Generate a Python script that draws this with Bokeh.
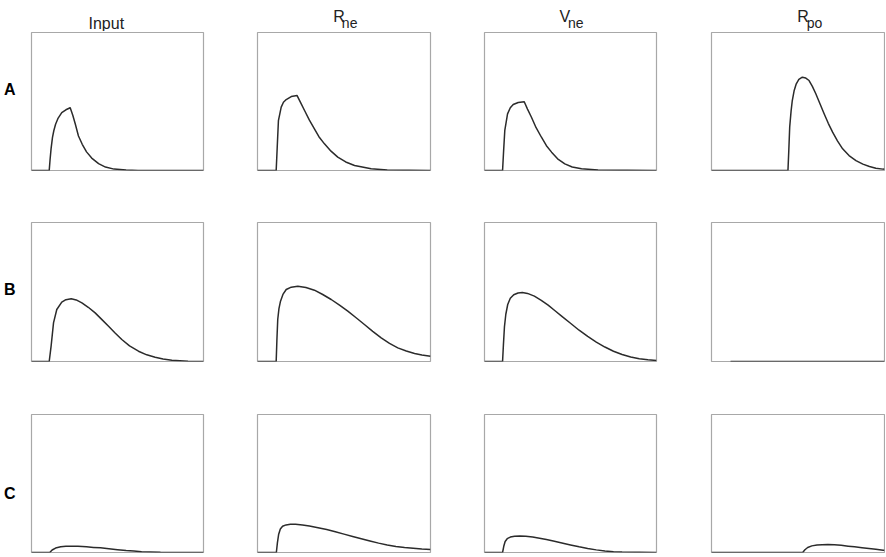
from bokeh.plotting import figure
from bokeh.layouts import gridplot
from bokeh.models import Range1d
from bokeh.core.properties import value
from bokeh.embed import file_html
from bokeh.resources import INLINE

# ---------------- data (x: % of time window, y: fraction of panel height) -------------
col_main = ["Input", "R", "V", "R"]
col_sub = ["", "ne", "ne", "po"]
row_labels = ["A", "B", "C"]

input_A_x = [0, 10.3, 10.8, 11.4, 12.2, 13.0, 14.0, 15.5, 17.6, 20.0, 22.5, 24.0, 25.5, 27.3, 29.5, 32.0, 35.0, 39.0, 43.0, 48.0, 55.0, 62.0, 100]
input_A_y = [0, 0, 0.08, 0.16, 0.24, 0.29, 0.335, 0.38, 0.42, 0.44, 0.455, 0.40, 0.335, 0.25, 0.19, 0.135, 0.09, 0.05, 0.025, 0.01, 0.003, 0, 0]

rne_A_x = [0, 10.8, 11.4, 12.1, 13.7, 15.0, 16.6, 19.5, 22.9, 25.0, 27.2, 30.0, 32.9, 35.5, 38.7, 42.5, 46.4, 51.0, 56.1, 65.7, 75.0, 100]
rne_A_y = [0, 0, 0.169, 0.362, 0.459, 0.495, 0.514, 0.536, 0.543, 0.49, 0.435, 0.365, 0.302, 0.245, 0.193, 0.14, 0.097, 0.062, 0.036, 0.012, 0.003, 0]

vne_A_x = [0, 10.5, 11.1, 11.8, 13.4, 15.0, 16.7, 19.6, 23.1, 25.0, 27.3, 30.0, 33.1, 36.0, 39.0, 42.5, 46.7, 51.0, 56.4, 66.0, 100]
vne_A_y = [0, 0, 0.14, 0.29, 0.41, 0.455, 0.478, 0.493, 0.498, 0.445, 0.386, 0.31, 0.241, 0.18, 0.133, 0.085, 0.048, 0.025, 0.012, 0.003, 0]

rpo_A_x = [0, 44.2, 44.7, 45.2, 46.0, 46.7, 47.8, 49.0, 50.5, 52.5, 54.5, 56.4, 58.3, 60.3, 62.7, 65.1, 67.5, 70.0, 72.8, 75.8, 79.5, 83.5, 87.5, 91.3, 95.0, 99.0, 100]
rpo_A_y = [0, 0, 0.15, 0.314, 0.43, 0.507, 0.58, 0.628, 0.66, 0.676, 0.67, 0.652, 0.61, 0.556, 0.484, 0.411, 0.342, 0.278, 0.215, 0.157, 0.108, 0.072, 0.046, 0.029, 0.017, 0.01, 0.009]

input_B_x = [0, 10.3, 11.4, 12.8, 14.7, 17.6, 20.0, 23.1, 26.0, 29.3, 33.0, 37.0, 40.8, 44.8, 48.6, 52.5, 57.0, 62.2, 67.0, 71.9, 76.5, 81.6, 91.0, 100]
input_B_y = [0, 0, 0.11, 0.278, 0.374, 0.427, 0.445, 0.451, 0.443, 0.422, 0.39, 0.35, 0.303, 0.254, 0.205, 0.158, 0.112, 0.074, 0.048, 0.031, 0.018, 0.009, 0.002, 0]

rne_B_x = [0, 10.8, 11.2, 11.7, 12.4, 13.3, 14.8, 16.6, 19.5, 23.3, 28.0, 32.9, 37.7, 42.6, 47.4, 52.2, 57.0, 61.8, 66.6, 71.5, 76.3, 81.1, 86.0, 90.8, 95.0, 100]
rne_B_y = [0, 0, 0.15, 0.302, 0.38, 0.434, 0.485, 0.518, 0.535, 0.542, 0.532, 0.513, 0.482, 0.446, 0.405, 0.362, 0.315, 0.266, 0.217, 0.17, 0.13, 0.098, 0.075, 0.058, 0.047, 0.038]

vne_B_x = [0, 10.5, 11.0, 11.6, 12.4, 13.5, 15.0, 17.0, 19.5, 22.0, 25.0, 29.0, 33.0, 37.0, 41.0, 45.0, 50.0, 55.0, 60.0, 65.0, 70.0, 75.0, 80.0, 85.0, 90.0, 95.0, 100]
vne_B_y = [0, 0, 0.12, 0.25, 0.34, 0.41, 0.455, 0.48, 0.493, 0.496, 0.49, 0.47, 0.44, 0.405, 0.365, 0.325, 0.275, 0.225, 0.18, 0.14, 0.104, 0.074, 0.05, 0.032, 0.02, 0.012, 0.008]

rpo_B_x = [11, 100]
rpo_B_y = [0, 0]

input_C_x = [0, 10.6, 12.0, 14.0, 17.0, 20.0, 22.7, 27.0, 32.0, 36.0, 40.1, 45.0, 50.0, 55.0, 59.5, 64.0, 69.0, 75.0, 100]
input_C_y = [0, 0, 0.018, 0.032, 0.041, 0.045, 0.046, 0.045, 0.041, 0.037, 0.034, 0.027, 0.02, 0.014, 0.01, 0.006, 0.003, 0.001, 0]

rne_C_x = [0, 10.9, 11.5, 12.2, 13.2, 14.5, 16.5, 19.0, 22.0, 26.0, 30.0, 35.0, 40.0, 45.0, 50.0, 55.0, 60.0, 65.0, 70.0, 75.0, 80.0, 85.0, 90.0, 95.0, 100]
rne_C_y = [0, 0, 0.07, 0.13, 0.17, 0.19, 0.2, 0.205, 0.205, 0.2, 0.192, 0.18, 0.166, 0.15, 0.133, 0.116, 0.099, 0.083, 0.068, 0.055, 0.044, 0.036, 0.03, 0.025, 0.022]

vne_C_x = [0, 10.5, 11.2, 12.0, 13.2, 15.0, 17.5, 20.5, 24.0, 28.0, 32.0, 36.0, 40.0, 45.0, 50.0, 55.0, 60.0, 65.0, 70.0, 75.0, 80.0, 100]
vne_C_y = [0, 0, 0.045, 0.08, 0.1, 0.112, 0.118, 0.12, 0.118, 0.112, 0.104, 0.094, 0.083, 0.069, 0.055, 0.041, 0.029, 0.019, 0.011, 0.006, 0.003, 0]

rpo_C_x = [0, 52.7, 54.0, 55.6, 58.0, 61.0, 64.0, 67.3, 71.0, 75.0, 79.0, 82.7, 87.0, 91.0, 95.0, 99.2, 100]
rpo_C_y = [0, 0, 0.02, 0.036, 0.048, 0.055, 0.057, 0.058, 0.056, 0.052, 0.046, 0.041, 0.035, 0.029, 0.023, 0.017, 0.016]

curves = [
    [(input_A_x, input_A_y), (rne_A_x, rne_A_y), (vne_A_x, vne_A_y), (rpo_A_x, rpo_A_y)],
    [(input_B_x, input_B_y), (rne_B_x, rne_B_y), (vne_B_x, vne_B_y), (rpo_B_x, rpo_B_y)],
    [(input_C_x, input_C_y), (rne_C_x, rne_C_y), (vne_C_x, vne_C_y), (rpo_C_x, rpo_C_y)],
]

# ---------------- layout geometry (px) ----------------
LAB_W = 30
HEAD_H = 31
col_w = [200, 227, 227, 201]
col_bl = [1, 27, 27, 27]
col_br = [27, 27, 28, 1]
row_h = [166, 191, 166]
row_bt = [1, 25, 26]
row_bb = [27, 27, 2]

FONT = "Liberation Sans"
LINE = "#2b2b2b"
FRAME = "#a8a8a8"
TXT = "#222222"


def blank(w, h, xr, yr):
    f = figure(width=w, height=h, title=None, x_range=xr, y_range=yr,
               x_axis_location=None, y_axis_location=None,
               toolbar_location=None, output_backend="svg",
               min_border=0, min_border_left=0, min_border_right=0,
               min_border_top=0, min_border_bottom=0,
               background_fill_color="white", border_fill_color="white")
    f.outline_line_color = None
    f.grid.visible = False
    return f


# header row
header = [blank(LAB_W, HEAD_H, Range1d(0, LAB_W), Range1d(0, HEAD_H))]
for c in range(4):
    fw = col_w[c] - col_bl[c] - col_br[c]
    xr = Range1d(-col_bl[c] / fw * 100, (col_w[c] - col_bl[c]) / fw * 100)
    h = blank(col_w[c], HEAD_H, xr, Range1d(0, HEAD_H))
    if col_sub[c] == "":
        h.text(x=[50], y=[HEAD_H - 22.7], text=[col_main[c]],
               text_font=value(FONT), text_font_size="16px", text_color=TXT,
               text_align="center", text_baseline="alphabetic")
    else:
        h.text(x=[50 - 14.0 / fw * 100], y=[HEAD_H - 16], text=[col_main[c]],
               text_font=value(FONT), text_font_size="16px", text_color=TXT,
               text_align="left", text_baseline="alphabetic")
        h.text(x=[50 - 2.8 / fw * 100], y=[HEAD_H - 22.8], text=[col_sub[c]],
               text_font=value(FONT), text_font_size="14px", text_color=TXT,
               text_align="left", text_baseline="alphabetic")
    header.append(h)

grid = [header]
page_top = HEAD_H
label_base = [99.5, 289.5, 483.5]
for r in range(3):
    fig_bottom = page_top + row_h[r]
    lab = blank(LAB_W, row_h[r], Range1d(0, LAB_W), Range1d(0, row_h[r]))
    lab.text(x=[3.5], y=[fig_bottom - label_base[r]], text=[row_labels[r]],
             text_font=value(FONT), text_font_size="16px", text_font_style="bold",
             text_color="#000000", text_align="left", text_baseline="alphabetic")
    row = [lab]
    for c in range(4):
        p = figure(width=col_w[c], height=row_h[r], title=None,
                   x_range=Range1d(0, 100), y_range=Range1d(0, 1),
                   x_axis_location=None, y_axis_location=None,
                   toolbar_location=None, output_backend="svg",
                   min_border_left=col_bl[c], min_border_right=col_br[c],
                   min_border_top=row_bt[r], min_border_bottom=row_bb[r],
                   background_fill_color="white", border_fill_color="white")
        p.outline_line_color = FRAME
        p.outline_line_width = 1.2
        p.grid.visible = False
        xs, ys = curves[r][c]
        p.line(xs, ys, line_color=LINE, line_width=1.5, line_join="round")
        row.append(p)
    grid.append(row)
    page_top = fig_bottom

layout = gridplot(grid, toolbar_location=None)

open("out.html", "w").write(file_html(layout, INLINE))
